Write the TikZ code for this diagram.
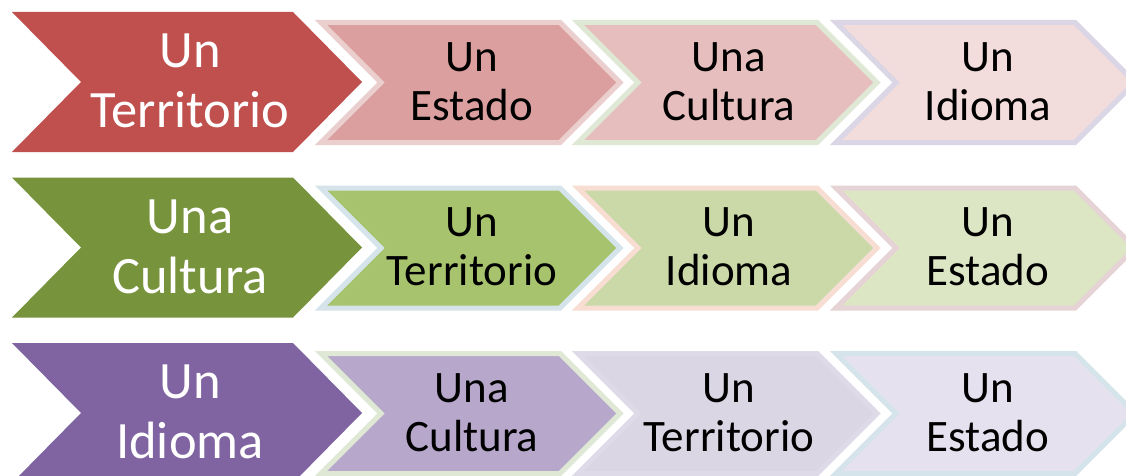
\documentclass[tikz,border=0pt]{standalone}
\usepackage{fontspec}
\setmainfont{Carlito}
\definecolor{redA}{HTML}{C0504D}
\definecolor{redB}{HTML}{DA9F9E}
\definecolor{redC}{HTML}{E6BEBD}
\definecolor{redD}{HTML}{F2DDDC}
\definecolor{grnA}{HTML}{77933C}
\definecolor{grnB}{HTML}{A8C36D}
\definecolor{grnC}{HTML}{CAD9A7}
\definecolor{grnD}{HTML}{DCE6C5}
\definecolor{purA}{HTML}{8064A2}
\definecolor{purB}{HTML}{B6A7CB}
\definecolor{purC}{HTML}{DAD6E4}
\definecolor{purD}{HTML}{E6E1EE}
\definecolor{olPink}{HTML}{EBCFCF}
\definecolor{olGreen}{HTML}{DFE8D4}
\definecolor{olLav}{HTML}{DAD6E6}
\definecolor{olBlue}{HTML}{D4E4EA}
\definecolor{olPeach}{HTML}{F8DDD3}
\definecolor{olMauve}{HTML}{E6D3D5}
\definecolor{olLav2}{HTML}{DEDAE7}
\newcommand{\chevbig}[2]{%
  \fill[#2] (12,#1) -- ++(281,0) -- ++(69,70) -- ++(-69,70) -- ++(-281,0) -- ++(69,-70) -- cycle;}
\newcommand{\chevsm}[4]{%
  \filldraw[chevline, fill=#3, draw=#4] (#1,#2) -- ++(239,0) -- ++(60,60) -- ++(-60,60) -- ++(-239,0) -- ++(60,-60) -- cycle;}
\begin{document}
\begin{tikzpicture}[x=1pt,y=-1pt,
  bigtxt/.style={text=white, align=center, inner sep=0pt, font=\fontsize{52.5}{60}\selectfont},
  smalltxt/.style={text=black, align=center, inner sep=0pt, font=\fontsize{45}{49}\selectfont},
  chevline/.style={line width=5pt, line join=miter, miter limit=10}]
\useasboundingbox (0,0) rectangle (1126,476);
\fill[white] (0,0) rectangle (1126,476);
% row 1
\chevbig{12}{redA}
\chevsm{321}{22.5}{redB}{olPink}
\chevsm{578}{22.5}{redC}{olGreen}
\chevsm{836}{22.5}{redD}{olLav}
\node[bigtxt] (r1a) at (190,81) {Un\\Territorio};
\node[smalltxt] (r1b) at (472,81.5) {Un\\Estado};
\node[smalltxt] (r1c) at (729,81.5) {Una\\Cultura};
\node[smalltxt] (r1d) at (988,81.5) {Un\\Idioma};
% row 2
\chevbig{177.5}{grnA}
\chevsm{321}{188}{grnB}{olBlue}
\chevsm{578}{188}{grnC}{olPeach}
\chevsm{836}{188}{grnD}{olMauve}
\node[bigtxt] (r2a) at (190,246.5) {Una\\Cultura};
\node[smalltxt] (r2b) at (472,247) {Un\\Territorio};
\node[smalltxt] (r2c) at (729,247) {Un\\Idioma};
\node[smalltxt] (r2d) at (988,247) {Un\\Estado};
% row 3
\chevbig{343}{purA}
\chevsm{321}{353.5}{purB}{olGreen}
\chevsm{578}{353.5}{purC}{olLav2}
\chevsm{836}{353.5}{purD}{olBlue}
\node[bigtxt] (r3a) at (190,412) {Un\\Idioma};
\node[smalltxt] (r3b) at (472,412.5) {Una\\Cultura};
\node[smalltxt] (r3c) at (729,412.5) {Un\\Territorio};
\node[smalltxt] (r3d) at (988,412.5) {Un\\Estado};
\end{tikzpicture}
\end{document}
